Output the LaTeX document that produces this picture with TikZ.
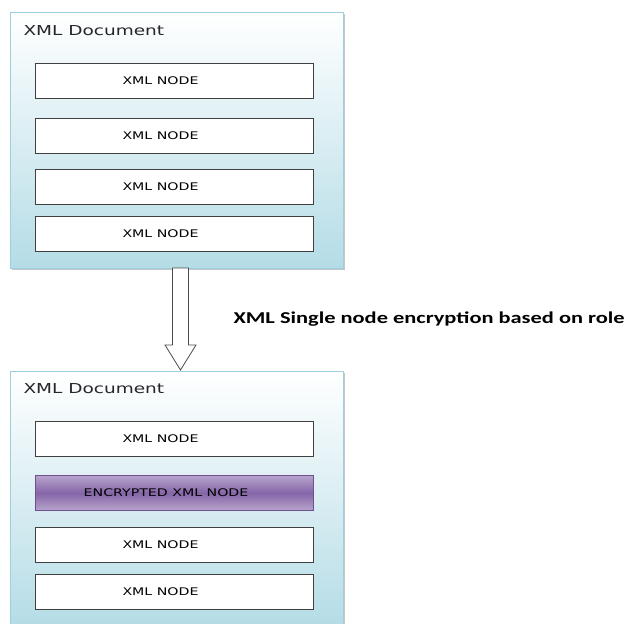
\documentclass[tikz,border=0pt]{standalone}
\usepackage{fontspec}
\setmainfont{DejaVu Sans}[FakeStretch=1.35]
\newfontfamily\labelfont{Carlito}[FakeStretch=1.35]
\usetikzlibrary{shadows}
\definecolor{docedge}{HTML}{9CD0DE}
\definecolor{docbottom}{HTML}{B4DCE6}
\definecolor{encmid}{HTML}{8565A8}
\definecolor{enclight}{HTML}{B7A4CB}
\definecolor{encedge}{HTML}{6E4F92}
\tikzset{
  x=1pt, y=-1pt,
  docbox/.style={draw=docedge, line width=0.8pt, top color=white, bottom color=docbottom,
    drop shadow={shadow xshift=1.5pt, shadow yshift=-1.5pt, opacity=0.45, fill=gray}},
  xmlnode/.style={draw=black!75, line width=0.8pt, fill=white,
    minimum width=278pt, minimum height=35pt},
  encnode/.style={draw=encedge, line width=0.8pt, top color=enclight, bottom color=enclight,
    middle color=encmid, minimum width=278pt, minimum height=35pt},
  nodetext/.style={font=\fontsize{10.5}{12}\selectfont, text=black},
  doctitle/.style={font=\fontsize{13.7}{16}\selectfont, anchor=west, text=black!85},
}
\begin{document}
\begin{tikzpicture}
\useasboundingbox (0,0) rectangle (630,624);

% upper document with four plain nodes
\node[docbox, minimum width=333pt, minimum height=256pt, anchor=north west] (doc1) at (10,12) {};
\node[doctitle] (t1) at (20,31) {XML Document};
\node[xmlnode] (a1) at (174,80.5) {};
\node[nodetext] at ([xshift=-13.5pt]a1.center) {XML NODE};
\node[xmlnode] (a2) at (174,135.5) {};
\node[nodetext] at ([xshift=-13.5pt]a2.center) {XML NODE};
\node[xmlnode] (a3) at (174,186.5) {};
\node[nodetext] at ([xshift=-13.5pt]a3.center) {XML NODE};
\node[xmlnode] (a4) at (174,233.5) {};
\node[nodetext] at ([xshift=-13.5pt]a4.center) {XML NODE};

% lower document with one encrypted node
\node[docbox, minimum width=333pt, minimum height=256pt, anchor=north west] (doc2) at (10,371) {};
\node[doctitle] (t2) at (20,389) {XML Document};
\node[xmlnode] (b1) at (174,438.5) {};
\node[nodetext] at ([xshift=-13.5pt]b1.center) {XML NODE};
\node[encnode] (b2) at (174,493) {};
\node[nodetext] at ([xshift=-8pt]b2.center) {ENCRYPTED XML NODE};
\node[xmlnode] (b3) at (174,545) {};
\node[nodetext] at ([xshift=-13.5pt]b3.center) {XML NODE};
\node[xmlnode] (b4) at (174,592) {};
\node[nodetext] at ([xshift=-13.5pt]b4.center) {XML NODE};

% hollow block arrow between the documents
\draw[black!70, line width=0.8pt, fill=white]
  (172.5,268) -- (188.5,268) -- (188.5,345) -- (196,345) -- (180.5,370)
  -- (165,345) -- (172.5,345) -- cycle;

\node[font=\labelfont\bfseries\fontsize{16.6}{19}\selectfont, anchor=west] (lbl) at (230,319) {XML Single node encryption based on role};
\end{tikzpicture}
\end{document}
